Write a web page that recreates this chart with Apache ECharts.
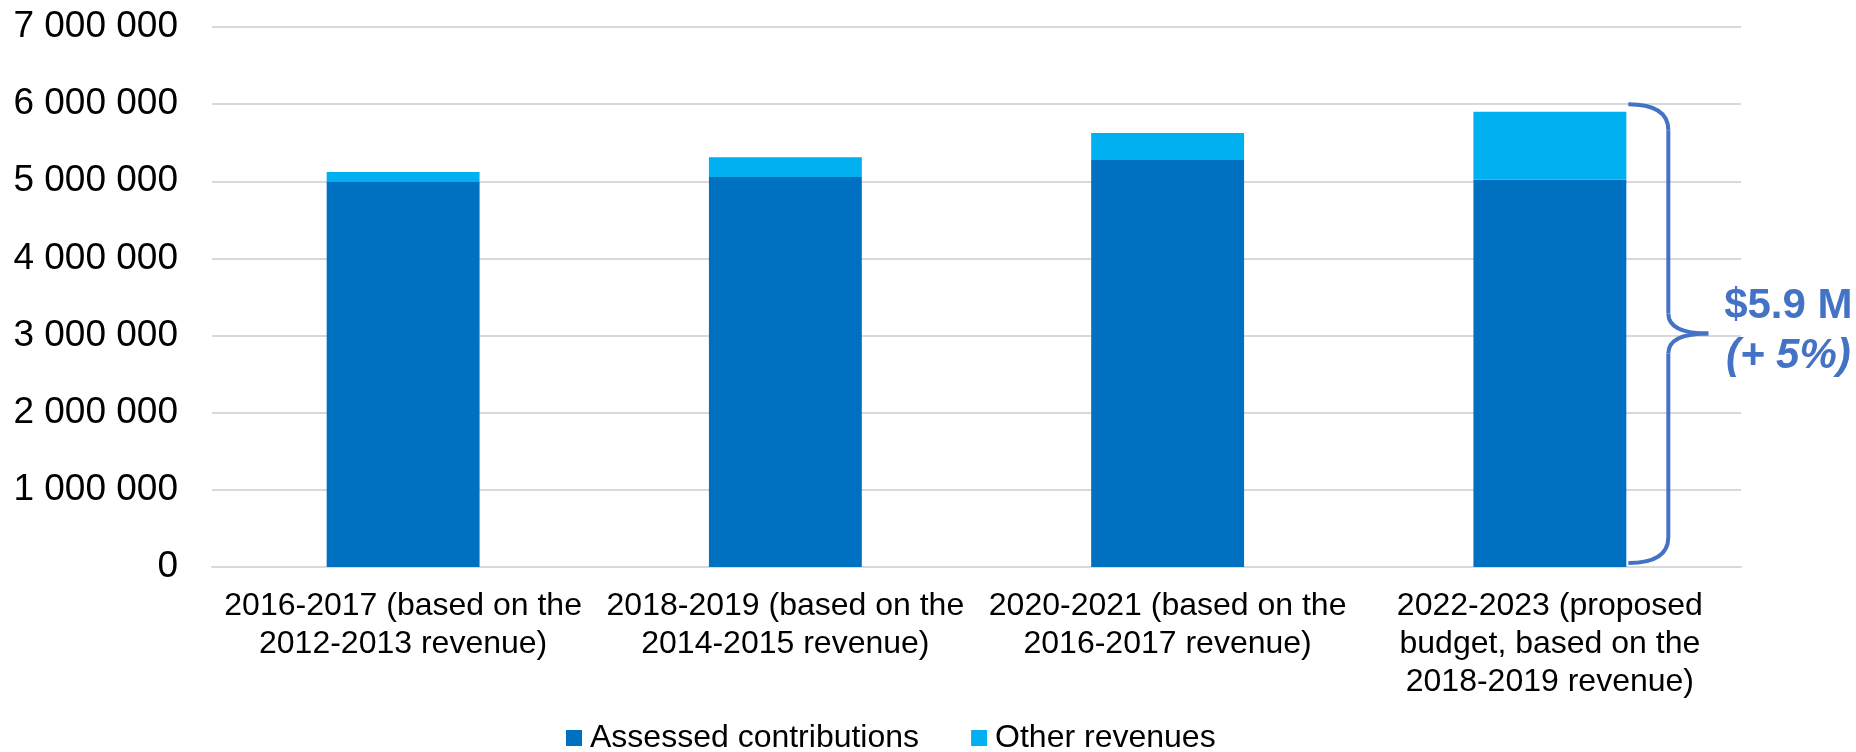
<!DOCTYPE html>
<html>
<head>
<meta charset="utf-8">
<script src="https://cdn.jsdelivr.net/npm/echarts@6/dist/echarts.min.js"></script>
<style>
  html, body { margin: 0; padding: 0; background: #fff; }
  #chart { width: 1856px; height: 752px; }
</style>
</head>
<body>
<div id="chart"></div>
<script>
// Biennial revenue by source
const categories = [
  '2016-2017 (based on the\n2012-2013 revenue)',
  '2018-2019 (based on the\n2014-2015 revenue)',
  '2020-2021 (based on the\n2016-2017 revenue)',
  '2022-2023 (proposed\nbudget, based on the\n2018-2019 revenue)'
];
const assessedContributions = [4990000, 5055000, 5275000, 5020000];
const otherRevenues = [130000, 255000, 350000, 880000];
const seriesNames = ['Assessed contributions', 'Other revenues'];
const yTicks = { min: 0, max: 7000000, interval: 1000000 };
const braceRange = [0, 6000000];

const FONT = '"Liberation Sans", Arial, sans-serif';
const BLUE_DARK = '#0070C0';
const BLUE_LIGHT = '#00B0F0';
const ACCENT = '#4472C4';

const fmt = v => String(v).replace(/\B(?=(\d{3})+(?!\d))/g, ' ');

const chart = echarts.init(document.getElementById('chart'), null, { renderer: 'canvas' });

chart.setOption({
  animation: false,
  backgroundColor: '#ffffff',
  textStyle: { fontFamily: FONT },
  grid: {
    left: 212, right: 115, top: 27, bottom: 185,
    containLabel: false,
    outerBoundsMode: 'none'
  },
  legend: {
    data: seriesNames,
    left: 566,
    top: 722,
    padding: 0,
    itemWidth: 16,
    itemHeight: 16,
    itemGap: 52,
    icon: 'rect',
    textStyle: { fontFamily: FONT, fontSize: 32, color: '#000', padding: [0, 0, 0, 3] }
  },
  xAxis: {
    type: 'category',
    data: categories,
    axisLine: { show: true, lineStyle: { color: '#d9d9d9', width: 2 } },
    axisTick: { show: false },
    axisLabel: {
      interval: 0,
      margin: 20,
      fontFamily: FONT,
      fontSize: 32,
      lineHeight: 38,
      color: '#000',
      align: 'center'
    }
  },
  yAxis: {
    type: 'value',
    min: yTicks.min,
    max: yTicks.max,
    interval: yTicks.interval,
    axisLine: { show: false },
    axisTick: { show: false },
    splitLine: { lineStyle: { color: '#d9d9d9', width: 2 } },
    axisLabel: {
      margin: 34,
      fontFamily: FONT,
      fontSize: 37,
      color: '#000',
      formatter: fmt
    }
  },
  series: [
    {
      name: seriesNames[0],
      type: 'bar',
      stack: 'rev',
      barWidth: '40%',
      itemStyle: { color: BLUE_DARK },
      data: assessedContributions
    },
    {
      name: seriesNames[1],
      type: 'bar',
      stack: 'rev',
      barWidth: '40%',
      itemStyle: { color: BLUE_LIGHT },
      data: otherRevenues
    }
  ]
});

// Brace and total annotation beside the last bar
const last = categories.length - 1;
const totals = assessedContributions.map((v, i) => v + otherRevenues[i]);
const cx = chart.convertToPixel({ xAxisIndex: 0 }, last);
const band = cx - chart.convertToPixel({ xAxisIndex: 0 }, last - 1);
const tipX = cx + band * 0.2 + 2;
const spineX = tipX + 40;
const pointX = spineX + 40;
const topY = chart.convertToPixel({ yAxisIndex: 0 }, braceRange[1]);
const botY = chart.convertToPixel({ yAxisIndex: 0 }, braceRange[0]) - 4;
const midY = (topY + botY) / 2;
const r = 26, rm = 20;

const braceStyle = { fill: null, stroke: ACCENT, lineWidth: 4 };
const curve = (x1, y1, cpx, cpy, x2, y2) => ({
  type: 'bezierCurve',
  shape: { x1: x1, y1: y1, cpx1: cpx, cpy1: cpy, x2: x2, y2: y2 },
  style: braceStyle
});
const seg = (x1, y1, x2, y2) => ({
  type: 'line',
  shape: { x1: x1, y1: y1, x2: x2, y2: y2 },
  style: braceStyle
});

const totalLabel = '$' + (totals[last] / 1e6).toFixed(1) + ' M';
const growth = Math.round((totals[last] / totals[last - 1] - 1) * 100);
const growthLabel = '(+ ' + growth + '%)';

chart.setOption({
  graphic: [
    curve(tipX, topY, spineX, topY, spineX, topY + r),
    seg(spineX, topY + r, spineX, midY - rm),
    curve(spineX, midY - rm, spineX, midY, pointX, midY),
    curve(pointX, midY, spineX, midY, spineX, midY + rm),
    seg(spineX, midY + rm, spineX, botY - r),
    curve(spineX, botY - r, spineX, botY, tipX, botY),
    {
      type: 'text',
      x: pointX + 80,
      y: midY - 2,
      style: {
        text: '{a|' + totalLabel + '}\n{b|' + growthLabel + '}',
        align: 'center',
        verticalAlign: 'middle',
        rich: {
          a: { fontFamily: FONT, fontSize: 42, fontWeight: 'bold', fill: ACCENT, lineHeight: 50, align: 'center' },
          b: { fontFamily: FONT, fontSize: 42, fontWeight: 'bold', fontStyle: 'italic', fill: ACCENT, lineHeight: 50, align: 'center' }
        }
      }
    }
  ]
});
</script>
</body>
</html>
